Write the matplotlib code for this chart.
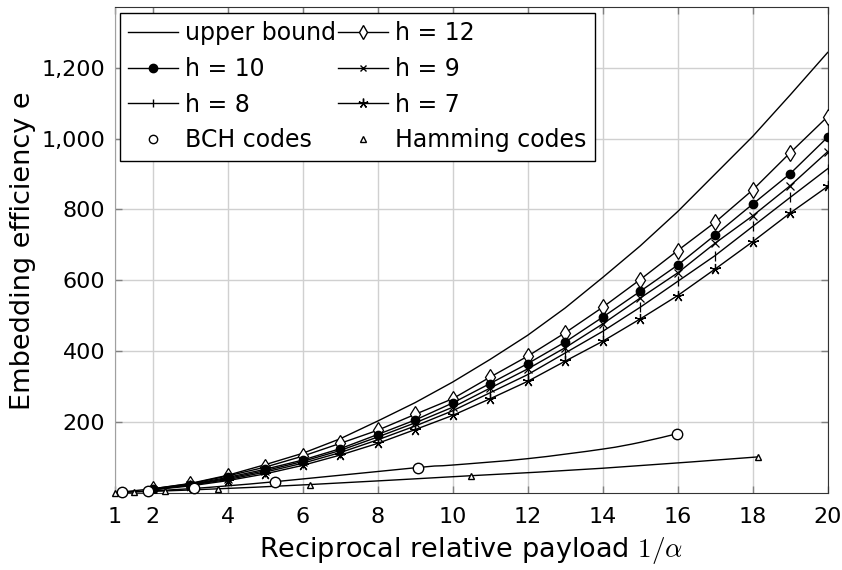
import numpy as np
import matplotlib
matplotlib.use("Agg")
import matplotlib.pyplot as plt
from matplotlib.path import Path
from matplotlib.patches import PathPatch
from matplotlib.lines import Line2D
from matplotlib.ticker import FuncFormatter

plt.rcParams["font.family"] = ["DejaVu Sans"]
plt.rcParams["mathtext.fontset"] = "cm"

# --- data ---
x_ub = list(range(1, 21))
upper_bound = [1, 12, 27, 50, 80, 112, 153, 203, 255, 313, 377, 445, 522, 608,
               697, 794, 900, 1006, 1123, 1243]

x_h = list(range(2, 21))
h12 = [12, 26, 48, 73, 104, 140, 177, 222, 266, 327, 386, 452, 524, 602, 684,
       764, 855, 960, 1062]
h10 = [11, 24, 44, 67, 93, 125, 165, 206, 254, 309, 365, 426, 496, 569, 643,
       728, 815, 901, 1004]
h9 = [10, 23, 41, 63, 89, 120, 158, 198, 242, 296, 350, 410, 477, 550, 621,
      705, 782, 867, 963]
h8 = [10, 22, 38, 59, 84, 114, 150, 189, 232, 283, 334, 395, 456, 524, 597,
      670, 752, 834, 915]
h7 = [9, 20, 35, 54, 78, 107, 140, 179, 219, 266, 315, 372, 428, 491, 557,
      632, 709, 790, 865]

# code points (marked)
x_bch = [1.18, 1.87, 3.11, 5.26, 9.07, 15.97]
y_bch = [2, 6, 13, 32, 72, 167]
x_ham = [1.0, 1.5, 2.33, 3.75, 6.2, 10.5, 18.14]
y_ham = [1, 3, 6, 12, 24, 49, 102]

# connecting curves, sampled along the drawn lines
x_bch_line = [1.18, 1.87, 3.11, 5.26, 9.07, 10, 12, 14, 15, 15.97]
y_bch_line = [2, 6, 13, 32, 72, 79, 97, 124, 143, 167]
x_ham_line = [1.0, 1.5, 2.33, 3.75, 6.2, 10.5, 14, 18.14]
y_ham_line = [1, 3, 6, 12, 24, 49, 70, 102]

x_ticks = [1, 2, 4, 6, 8, 10, 12, 14, 16, 18, 20]
y_ticks = [200, 400, 600, 800, 1000, 1200]


def smooth_path(xs, ys):
    """Catmull-Rom style cubic bezier through the points (like pgfplots smooth)"""
    pts = np.column_stack([xs, ys]).astype(float)
    n = len(pts)
    verts = [pts[0]]
    codes = [Path.MOVETO]
    for i in range(n - 1):
        p0 = pts[max(i - 1, 0)]
        p1 = pts[i]
        p2 = pts[i + 1]
        p3 = pts[min(i + 2, n - 1)]
        c1 = p1 + (p2 - p0) / 6.0
        c2 = p2 - (p3 - p1) / 6.0
        verts += [c1, c2, p2]
        codes += [Path.CURVE4] * 3
    return Path(verts, codes)


fig = plt.figure(figsize=(8.42, 5.70), dpi=100)
ax = fig.add_axes([0.1366, 0.135, 0.8464, 0.852])

lw = 1.0
ax.plot(x_ub, upper_bound, color="black", lw=lw, zorder=3)
ax.plot(x_h, h12, color="black", lw=lw, marker="d", ms=8, mfc="white",
        mew=0.9, zorder=3)
ax.plot(x_h, h10, color="black", lw=lw, marker="o", ms=6, mfc="black",
        zorder=3)
ax.plot(x_h, h9, color="black", lw=lw, marker="x", ms=6, mew=0.9, zorder=3)
ax.plot(x_h, h8, color="black", lw=lw, marker="|", ms=7, mew=0.9, zorder=3)
ax.plot(x_h, h7, color="black", lw=lw, marker=(5, 2, 0), ms=8, mew=0.9,
        zorder=3)

ax.add_patch(PathPatch(smooth_path(x_bch_line, y_bch_line), fc="none",
                       ec="black", lw=lw, zorder=3))
ax.plot(x_bch, y_bch, ls="none", marker="o", ms=7.5, mfc="white", mec="black",
        mew=1.0, zorder=4, clip_on=False)
ax.add_patch(PathPatch(smooth_path(x_ham_line, y_ham_line), fc="none",
                       ec="black", lw=lw, zorder=3))
ax.plot(x_ham, y_ham, ls="none", marker="^", ms=5, mfc="white", mec="black",
        mew=1.0, zorder=4, clip_on=False)

ax.set_xlim(1, 20)
ax.set_ylim(0, 1370)
ax.set_xticks(x_ticks)
ax.set_yticks(y_ticks)
ax.yaxis.set_major_formatter(FuncFormatter(lambda v, p: f"{int(v):,}"))
ax.grid(True, color="#d0d0d0", lw=1.0, zorder=0)
ax.set_axisbelow(True)
ax.tick_params(direction="in", length=5, width=1, color="#808080",
               labelsize=16, top=True, right=True)
ax.tick_params(axis="x", pad=10)
ax.tick_params(axis="y", pad=7)
for side in ["top", "right", "bottom"]:
    ax.spines[side].set_color("#333333")
ax.spines["left"].set_color("#a0a0a0")

ax.set_xlabel(r"Reciprocal relative payload $1/\alpha$", fontsize=19.5,
              labelpad=6)
ax.set_ylabel("Embedding efficiency e", fontsize=19.5, labelpad=4)

handles = [
    Line2D([], [], color="black", lw=lw),
    Line2D([], [], color="black", lw=lw, marker="d", ms=7, mfc="white"),
    Line2D([], [], color="black", lw=lw, marker="o", ms=6, mfc="black"),
    Line2D([], [], color="black", lw=lw, marker="x", ms=5),
    Line2D([], [], color="black", lw=lw, marker="|", ms=6),
    Line2D([], [], color="black", lw=lw, marker=(5, 2, 0), ms=7),
    Line2D([], [], ls="none", marker="o", ms=6, mfc="white", mec="black"),
    Line2D([], [], ls="none", marker="^", ms=4, mfc="white", mec="black"),
]
labels = ["upper bound", "h = 12", "h = 10", "h = 9", "h = 8", "h = 7",
          "BCH codes", "Hamming codes"]
# matplotlib fills columns first, reorder to row-wise like pgfplots
order = [0, 2, 4, 6, 1, 3, 5, 7]
leg = ax.legend([handles[i] for i in order], [labels[i] for i in order],
                ncol=2, loc="upper left", fontsize=17, frameon=True,
                fancybox=False, edgecolor="black", framealpha=1,
                handlelength=2.1, handletextpad=0.3, columnspacing=0.1,
                labelspacing=0.5, borderpad=0.35, borderaxespad=0,
                bbox_to_anchor=(0.007, 0.989))
leg.get_frame().set_linewidth(1.0)
leg.set_zorder(10)

fig.savefig("out.png", dpi=100)
